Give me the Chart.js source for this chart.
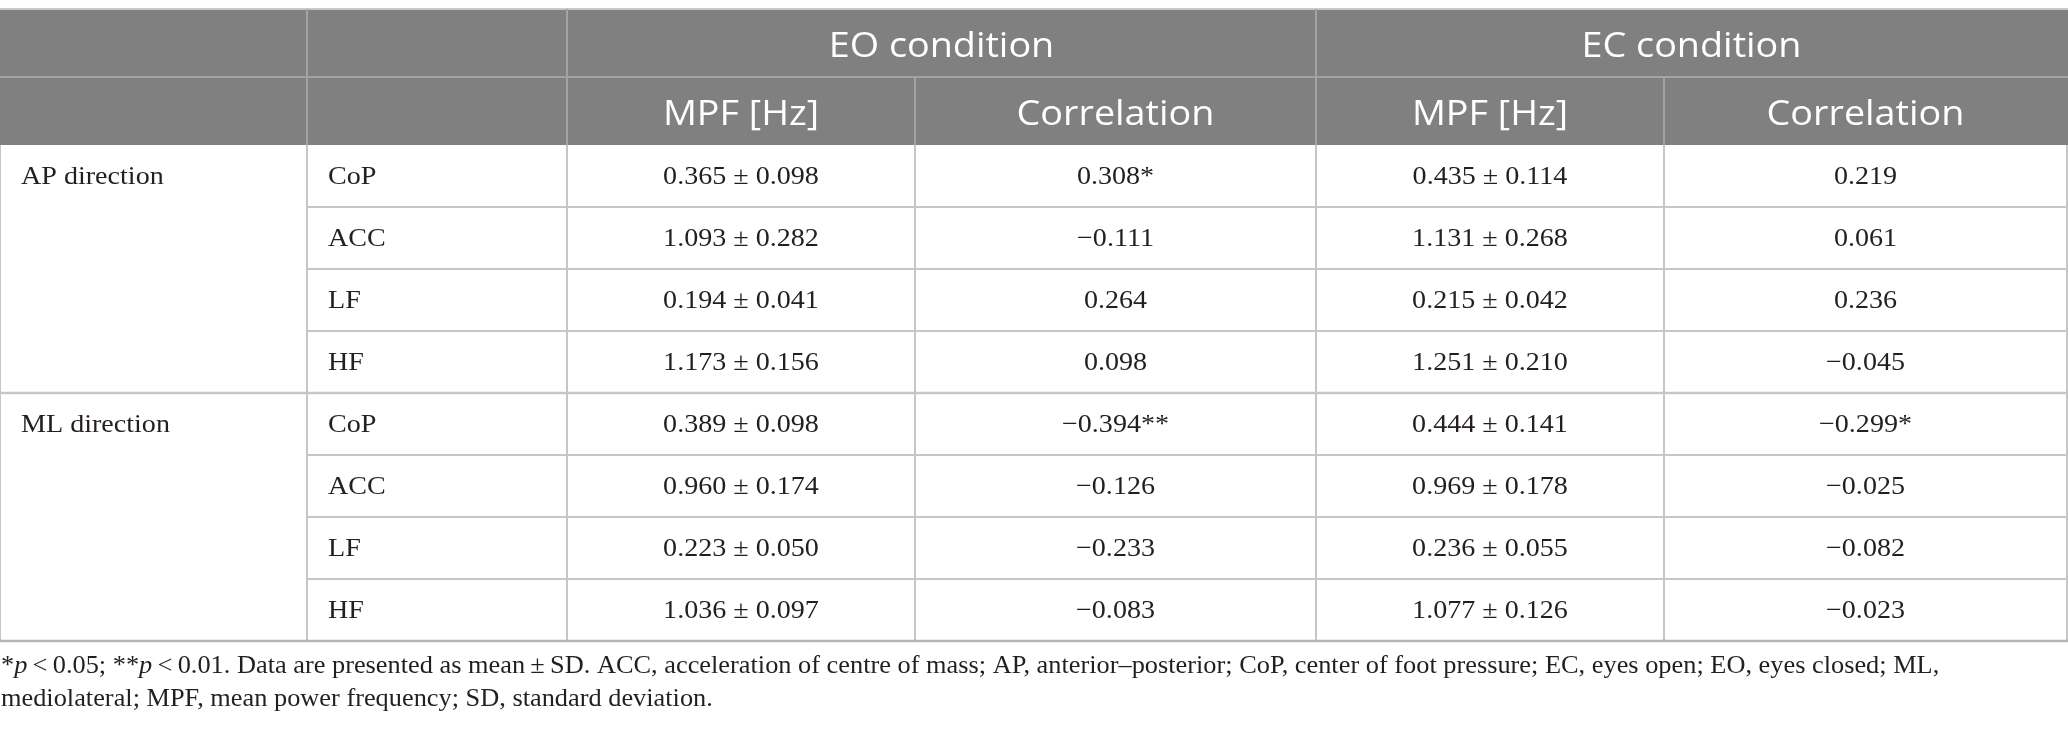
<!DOCTYPE html>
<html><head><meta charset="utf-8">
<script src="https://cdn.jsdelivr.net/npm/chart.js@4.4.0/dist/chart.umd.min.js"></script>
<style>html,body{margin:0;padding:0;background:#fff;overflow:hidden}#wrap{width:2068px;height:735px}</style>
</head><body><div id="wrap"><canvas id="c" width="2068" height="735"></canvas></div>
<script>
// ---- data ----
const conditions = ['EO condition', 'EC condition'];
const measures = ['MPF [Hz]', 'Correlation'];
const directions = ['AP direction', 'ML direction'];
const signals = ['CoP', 'ACC', 'LF', 'HF'];
const eoMean = [0.365, 1.093, 0.194, 1.173, 0.389, 0.960, 0.223, 1.036];
const eoSD   = [0.098, 0.282, 0.041, 0.156, 0.098, 0.174, 0.050, 0.097];
const eoCorr = [0.308, -0.111, 0.264, 0.098, -0.394, -0.126, -0.233, -0.083];
const eoSig  = ['*', '', '', '', '**', '', '', ''];
const ecMean = [0.435, 1.131, 0.215, 1.251, 0.444, 0.969, 0.236, 1.077];
const ecSD   = [0.114, 0.268, 0.042, 0.210, 0.141, 0.178, 0.055, 0.126];
const ecCorr = [0.219, 0.061, 0.236, -0.045, -0.299, -0.025, -0.082, -0.023];
const ecSig  = ['', '', '', '', '*', '', '', ''];
const footLine1 = [
  ['*', false], ['p', true], ['\u2009<\u20090.05; **', false], ['p', true],
  ['\u2009<\u20090.01. Data are presented as mean\u2009\u00b1\u2009SD. ACC, acceleration of centre of mass; AP, anterior\u2013posterior; CoP, center of foot pressure; EC, eyes open; EO, eyes closed; ML,', false]
];
const footLine2 = [['mediolateral; MPF, mean power frequency; SD, standard deviation.', false]];

// ---- layout (scale units) ----
const colEdges = [0, 307, 567, 915, 1316, 1664, 2067];
const headTop = 9, headMid = 77, headBot = 145, rowH = 62;
const footY = [667, 700];
const style = {
  headBg: '#808080', headLine: '#a3a3a3', line: '#c6c6c6', edge: '#b5b5b5',
  text: '#231f20', serif: '"Liberation Serif", "DejaVu Serif", serif',
  sans: '"Open Sans", "Noto Sans", sans-serif',
  bodySize: 26, headSize: 34, footSize: 24.4, sx: 1.08, headSx: 1.11
};

function fmt(v) { return (v < 0 ? '\u2212' : '') + Math.abs(v).toFixed(3); }

const tablePlugin = {
  id: 'table',
  beforeDraw(chart) {
    const c = chart.ctx; c.save(); c.fillStyle = '#fff';
    c.fillRect(0, 0, chart.width, chart.height); c.restore();
  },
  afterDraw(chart) {
    const c = chart.ctx, X = v => chart.scales.x.getPixelForValue(v), Y = v => chart.scales.y.getPixelForValue(v);
    const nRows = signals.length * directions.length;
    const rowTop = i => headBot + i * rowH;
    const bodyBot = rowTop(nRows);
    c.save();
    // header background
    c.fillStyle = style.headBg;
    c.fillRect(X(0), Y(headTop), X(2068) - X(0), Y(headBot) - Y(headTop));
    const hline = (x0, x1, y, col, w) => { c.strokeStyle = col; c.lineWidth = w; c.beginPath(); c.moveTo(X(x0), Y(y)); c.lineTo(X(x1), Y(y)); c.stroke(); };
    const vline = (x, y0, y1, col, w) => { c.strokeStyle = col; c.lineWidth = w; c.beginPath(); c.moveTo(X(x), Y(y0)); c.lineTo(X(x), Y(y1)); c.stroke(); };
    // header lines
    hline(0, 2068, headTop, '#c9c9c9', 2);
    hline(0, 2068, headMid, style.headLine, 2);
    [colEdges[1], colEdges[2], colEdges[4]].forEach(x => vline(x, headTop, headBot, style.headLine, 2));
    [colEdges[3], colEdges[5]].forEach(x => vline(x, headMid, headBot, style.headLine, 2));
    // body lines
    colEdges.forEach(x => vline(x, headBot, bodyBot, style.line, 2));
    for (let i = 1; i < nRows; i++) {
      if (i % signals.length === 0) hline(0, 2068, rowTop(i), style.line, 2.5);
      else hline(colEdges[1], 2068, rowTop(i), style.line, 2);
    }
    hline(0, 2068, bodyBot, style.edge, 2.5);

    const txt = (s, x, y, align, font, col, sx) => {
      c.save(); c.font = font; c.fillStyle = col; c.textAlign = align; c.textBaseline = 'middle';
      c.translate(X(x), Y(y)); c.scale(sx, 1); c.fillText(s, 0, 0); c.restore();
    };
    // header text
    const hf = style.headSize + 'px ' + style.sans;
    conditions.forEach((s, k) => {
      const x0 = colEdges[1 + 2 * k + 1], x1 = colEdges[1 + 2 * k + 3];
      txt(s, (x0 + x1) / 2, (headTop + headMid) / 2 + 4, 'center', hf, '#fff', style.headSx);
      measures.forEach((m, j) => {
        const a = colEdges[2 + 2 * k + j], b = colEdges[3 + 2 * k + j];
        txt(m, (a + b) / 2, (headMid + headBot) / 2 + 4, 'center', hf, '#fff', style.headSx);
      });
    });
    // body text
    const bf = style.bodySize + 'px ' + style.serif;
    const mid = i => rowTop(i) + rowH / 2 + 1;
    directions.forEach((d, g) => txt(d, 21, mid(g * signals.length), 'left', bf, style.text, style.sx));
    const cols = [
      i => eoMean[i].toFixed(3) + ' \u00b1 ' + eoSD[i].toFixed(3),
      i => fmt(eoCorr[i]) + eoSig[i],
      i => ecMean[i].toFixed(3) + ' \u00b1 ' + ecSD[i].toFixed(3),
      i => fmt(ecCorr[i]) + ecSig[i]
    ];
    for (let i = 0; i < nRows; i++) {
      txt(signals[i % signals.length], colEdges[1] + 21, mid(i), 'left', bf, style.text, style.sx);
      cols.forEach((f, j) => txt(f(i), (colEdges[2 + j] + colEdges[3 + j]) / 2, mid(i), 'center', bf, style.text, style.sx));
    }
    // footnote
    [footLine1, footLine2].forEach((line, li) => {
      let x = X(1);
      line.forEach(([s, it]) => {
        const font = (it ? 'italic ' : '') + style.footSize + 'px ' + style.serif;
        c.save(); c.font = font; c.fillStyle = style.text; c.textBaseline = 'middle'; c.textAlign = 'left';
        const w = c.measureText(s).width * style.sx;
        c.translate(x, Y(footY[li])); c.scale(style.sx, 1); c.fillText(s, 0, 0); c.restore();
        x += w;
      });
    });
    c.restore();
  }
};

new Chart(document.getElementById('c'), {
  type: 'scatter',
  data: { datasets: [{ data: [], pointRadius: 0 }] },
  options: {
    responsive: false, animation: false, devicePixelRatio: 1,
    layout: { padding: 0 },
    plugins: { legend: { display: false }, tooltip: { enabled: false } },
    scales: {
      x: { type: 'linear', min: 0, max: 2068, display: false },
      y: { type: 'linear', min: 0, max: 735, reverse: true, display: false }
    }
  },
  plugins: [tablePlugin]
});
</script></body></html>
